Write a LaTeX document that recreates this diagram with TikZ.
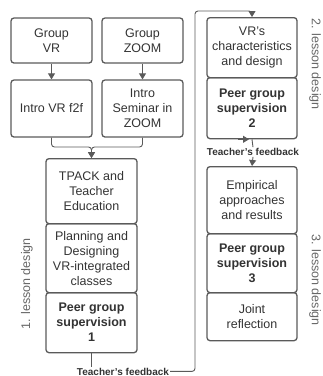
\documentclass[tikz,border=0pt]{standalone}
\usepackage{fontspec}
\setmainfont{Liberation Sans}
\usetikzlibrary{positioning,arrows.meta}

\definecolor{linegray}{HTML}{5A5A5A}
\definecolor{textgray}{HTML}{333333}
\definecolor{labelgray}{HTML}{666666}

\tikzset{
  stage/.style={draw=linegray, line width=1.3pt, rounded corners=3pt, text=textgray,
    align=center, inner sep=1pt, font=\fontsize{12.5}{15}\selectfont},
  peer/.style={stage, font=\fontsize{12.5}{15}\selectfont\bfseries},
  feedback/.style={text=textgray, font=\fontsize{10}{12}\selectfont\bfseries, inner sep=1pt},
  phase/.style={text=labelgray, font=\fontsize{12.5}{15}\selectfont},
  wire/.style={draw=linegray, line width=0.9pt, rounded corners=3pt},
  flow/.style={wire, -{Triangle[length=6pt,width=7pt]}},
}

\begin{document}
\begin{tikzpicture}[x=1pt, y=-1pt]
    \useasboundingbox (0,0) rectangle (323,376);

    % Groups and their intro sessions
    \node[stage, minimum width=81pt, minimum height=45pt] (groupvr) at (51.5,40.5) {Group\\VR};
    \node[stage, minimum width=81pt, minimum height=45pt] (groupzoom) at (142.5,40.5) {Group\\ZOOM};
    \node[stage, minimum width=81pt, minimum height=57pt] (introvr) at (51.5,108.5) {Intro VR f2f};
    \node[stage, minimum width=81pt, minimum height=57pt] (introzoom) at (142.5,108.5) {Intro\\Seminar in\\ZOOM};

    % First lesson design block
    \node[stage, minimum width=91pt, minimum height=65pt, anchor=north] (tpack) at (91.5,158) {TPACK and\\Teacher\\Education};
    \node[stage, minimum width=91pt, minimum height=69pt, below=-1.3pt of tpack] (planning) {Planning and\\Designing\\VR-integrated\\classes};
    \node[peer, minimum width=91pt, minimum height=60pt, below=-1.3pt of planning] (peer1) {Peer group\\supervision\\1};
    \node[feedback, anchor=base] (fb1) at (123,375) {Teacher's feedback};

    % Second and third lesson design blocks
    \node[stage, minimum width=90pt, minimum height=60pt, anchor=north] (vrchar) at (252,17) {VR's\\characteristics\\and design};
    \node[peer, minimum width=90pt, minimum height=61pt, below=-1.3pt of vrchar] (peer2) {Peer group\\supervision\\2};
    \node[feedback] (fb2) at (253,152) {Teacher's feedback};
    \node[stage, minimum width=90pt, minimum height=67pt, anchor=north] (empirical) at (252,166) {Empirical\\approaches\\and results};
    \node[peer, minimum width=90pt, minimum height=59pt, below=-1.3pt of empirical] (peer3) {Peer group\\supervision\\3};
    \node[stage, minimum width=90pt, minimum height=48pt, below=-1.3pt of peer3] (joint) {Joint\\reflection};

    % Side labels
    \node[phase, rotate=90] (phase1) at (27,284) {1. lesson design};
    \node[phase, rotate=-90] (phase2) at (315,64) {2. lesson design};
    \node[phase, rotate=-90] (phase3) at (315,280) {3. lesson design};

    % Connectors
    \coordinate (merge) at (91.5,147);
    \coordinate (riser) at (195,11);
    \draw[flow] (groupvr) -- (introvr);
    \draw[flow] (groupzoom) -- (introzoom);
    \draw[flow] (introvr.south) |- (merge) -- (tpack.north);
    \draw[flow] (introzoom.south) |- (merge) -- (tpack.north);
    \draw[wire] (peer1.south) -- (peer1.south |- fb1.north);
    \draw[flow] (fb1.east) -| (riser) -| (vrchar.north);
    \draw[flow] ([xshift=-14pt]peer2.south) -- ([xshift=-3pt]peer2.south);
    \draw[wire] (peer2.south) -- (fb2.north);
    \draw[flow] (fb2.south) -- (empirical.north);
\end{tikzpicture}
\end{document}
